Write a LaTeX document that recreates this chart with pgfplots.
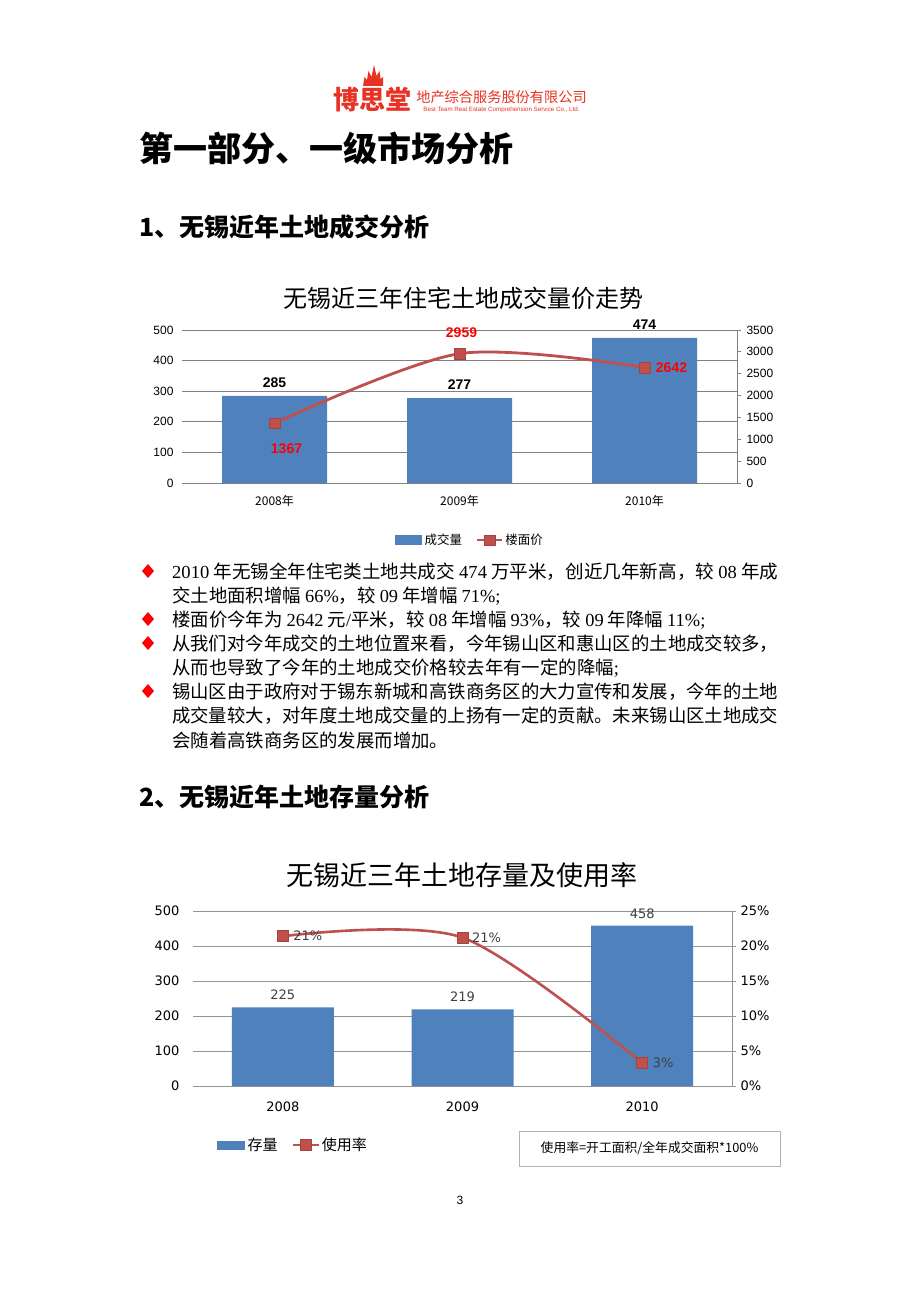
\documentclass[border=0pt]{standalone}
\usepackage{graphicx}
\usepackage{pgfplots}
\usepackage{pgfplotstable}
\pgfplotsset{compat=1.18}
\usepackage{fontspec}
\setmainfont{Liberation Serif}
\newfontfamily\cjk{Noto Sans CJK SC}
\newfontfamily\lsans{Liberation Sans}
\newfontfamily\dsans{DejaVu Sans}
\definecolor{barblue}{RGB}{79,129,189}
\definecolor{linered}{RGB}{192,80,77}
\definecolor{logored}{RGB}{232,50,36}
\definecolor{gridgray}{RGB}{128,128,128}
\definecolor{labgray}{RGB}{64,64,64}
\newcommand\fs[1]{\fontsize{#1bp}{#1bp}\selectfont}
\newcommand\R[1]{{\rmfamily #1}}
\newlength\jw
\newcommand\jline[2]{\settowidth\jw{#2}\pgfmathsetmacro\sx{#1*1.00375/\jw}\scalebox{\sx}[1]{#2}}
\pgfplotsset{
  linelegA/.style={legend image code/.code={\draw[mark repeat=2,mark phase=2,##1,line width=2.4bp] plot coordinates {(0bp,0bp) (12.5bp,0bp) (25bp,0bp)};}},
  linelegB/.style={legend image code/.code={\draw[mark repeat=2,mark phase=2,##1,line width=2.2bp] plot coordinates {(0bp,0bp) (13bp,0bp) (26bp,0bp)};}},
}

\pgfplotstableread{
x y dx dy
0 1367 12 -25
1 2959 2 21
2 2642 27 0
}\priceTable
\pgfplotstableread{
x y dx
0 21.4 25
1 21.2 24
2 3.3 21
}\rateTable

\begin{document}
\begin{tikzpicture}[x=1bp,y=1bp]
\fill[white] (0,0) rectangle (920,-1302);

% ---------- header logo ----------
\fill[logored] (363,-86) -- (364.5,-77) -- (367,-80) -- (368.5,-71) -- (371.5,-77) -- (374,-65) -- (376.5,-76) -- (379.5,-71) -- (380.5,-79) -- (383,-77) -- (383,-86) -- cycle;
\node[inner sep=0, text=logored, font=\cjk\bfseries\fs{26}] at (372.5,-100) {博思堂};
\node[inner sep=0, text=logored, font=\cjk\fs{14.2}] at (501.5,-97) {地产综合服务股份有限公司};
\node[inner sep=0, text=logored, font=\lsans\fs{6.2}] at (501.5,-110) {Best Team Real Estate Comprehension Service Co., Ltd.};

% ---------- headings ----------
\node[anchor=west, inner sep=0, font=\cjk\bfseries\fs{34}] at (139,-148) {第一部分、一级市场分析};
\node[anchor=west, inner sep=0, font=\cjk\bfseries\fs{25}] at (139,-227) {1、无锡近年土地成交分析};
\node[anchor=west, inner sep=0, font=\cjk\bfseries\fs{25}] at (139,-797) {2、无锡近年土地存量分析};

% ---------- chart 1 ----------
\node[inner sep=0, font=\cjk\fs{24}] at (463,-298) {无锡近三年住宅土地成交量价走势};
\begin{axis}[
  at={(182bp,-483bp)}, anchor=south west, scale only axis,
  width=555bp, height=153bp,
  xmin=-0.5, xmax=2.5, ymin=0, ymax=500,
  axis x line*=bottom, axis y line*=left,
  axis line style={draw=none},
  ytick={0,100,...,500}, xtick={0,1,2},
  xticklabels={2008年,2009年,2010年},
  ymajorgrids, grid style={gridgray, line width=0.8bp},
  major tick length=0pt,
  /pgf/number format/assume math mode=true,
  /pgf/number format/1000 sep={},
  yticklabel style={font=\lsans\fs{12}, text=black, xshift=-5bp},
  xticklabel style={font=\cjk\fs{12}, text=black, yshift=-9bp},
  clip=false,
]
\addplot[ybar, bar width=105bp, bar shift=0pt, fill=barblue, draw=none,
  nodes near coords,
  nodes near coords style={font=\lsans\bfseries\fs{14}, text=black, yshift=5bp}]
  coordinates {(0,285) (1,277) (2,474)};
\end{axis}
\begin{axis}[
  at={(182bp,-483bp)}, anchor=south west, scale only axis,
  width=555bp, height=153bp,
  xmin=-0.5, xmax=2.5, ymin=0, ymax=3500,
  axis y line*=right, axis x line=none,
  ytick={0,500,...,3500},
  scaled y ticks=false,
  y axis line style={gridgray, line width=0.8bp},
  ytick style={gridgray, line width=0.8bp},
  major tick length=4bp, tick align=outside,
  /pgf/number format/assume math mode=true,
  /pgf/number format/1000 sep={},
  yticklabel style={font=\lsans\fs{12}, text=black, anchor=west, xshift=2bp},
  clip=false,
  legend style={at={(0.519,-0.373)}, anchor=center, draw=none, fill=none,
    legend columns=2, font=\cjk\fs{12.5},
    /tikz/every even column/.append style={column sep=12bp}},
]
\addlegendimage{legend image code/.code={\fill[barblue] (0bp,-4.5bp) rectangle (26bp,4.5bp);}}
\addlegendentry{\hspace{1bp}成交量}
\addplot[linered, line width=2.8bp, smooth,
  mark=square*, mark size=5.3bp,
  mark options={fill=linered, draw=linered!85!black, line width=0.5bp},
  linelegA,
  nodes near coords,
  visualization depends on={\thisrow{dx}\as\dx},
  visualization depends on={\thisrow{dy}\as\dy},
  every node near coord/.append style={anchor=center, xshift=\dx bp, yshift=\dy bp, font=\lsans\bfseries\fs{14}, text=red}]
  table[x=x, y=y] {\priceTable};
\addlegendentry{楼面价}
\end{axis}

% ---------- bullet text ----------
\foreach \yy in {571,619,643,691} {
  \fill[red] (148,-\yy+7) -- (154,-\yy) -- (148,-\yy-7) -- (142,-\yy) -- cycle;
}
\begin{scope}[every node/.style={anchor=west, inner sep=0, font=\cjk\fs{18.4}}]
\node at (172,-572) {\jline{606}{\R{2010} 年无锡全年住宅类土地共成交 \R{474} 万平米，创近几年新高，较 \R{08} 年成}};
\node at (172,-596) {交土地面积增幅 \R{66\%}，较 \R{09} 年增幅 \R{71\%;}};
\node at (172,-620) {楼面价今年为 \R{2642} 元\R{/}平米，较 \R{08} 年增幅 \R{93\%}，较 \R{09} 年降幅 \R{11\%;}};
\node at (172,-644) {\jline{606}{从我们对今年成交的土地位置来看，今年锡山区和惠山区的土地成交较多，}};
\node at (172,-668) {从而也导致了今年的土地成交价格较去年有一定的降幅\R{;}};
\node at (172,-692) {\jline{606}{锡山区由于政府对于锡东新城和高铁商务区的大力宣传和发展，今年的土地}};
\node at (172,-716) {\jline{606}{成交量较大，对年度土地成交量的上扬有一定的贡献。未来锡山区土地成交}};
\node at (172,-740) {会随着高铁商务区的发展而增加。};
\end{scope}

% ---------- chart 2 ----------
\node[inner sep=0, font=\cjk\fs{27}] at (462,-875) {无锡近三年土地存量及使用率};
\begin{axis}[
  at={(193bp,-1086bp)}, anchor=south west, scale only axis,
  width=539bp, height=175bp,
  xmin=-0.5, xmax=2.5, ymin=0, ymax=500,
  axis x line*=bottom, axis y line*=left,
  axis line style={draw=none},
  ytick={0,100,...,500}, xtick={0,1,2},
  xticklabels={2008,2009,2010},
  ymajorgrids, grid style={gridgray!85, line width=0.8bp},
  major tick length=0pt,
  /pgf/number format/assume math mode=true,
  yticklabel style={font=\dsans\fs{13}, text=black, xshift=-10bp},
  xticklabel style={font=\dsans\fs{13}, text=black, yshift=-12bp},
  clip=false,
]
\addplot[ybar, bar width=102bp, bar shift=0pt, fill=barblue, draw=none,
  nodes near coords,
  nodes near coords style={font=\dsans\fs{13}, text=labgray, yshift=4bp}]
  coordinates {(0,225) (1,219) (2,458)};
\end{axis}
\begin{axis}[
  at={(193bp,-1086bp)}, anchor=south west, scale only axis,
  width=539bp, height=175bp,
  xmin=-0.5, xmax=2.5, ymin=0, ymax=25,
  axis y line*=right, axis x line=none,
  ytick={0,5,...,25},
  yticklabels={0\%,5\%,10\%,15\%,20\%,25\%},
  y axis line style={gridgray!85, line width=0.8bp},
  ytick style={gridgray!85, line width=0.8bp},
  major tick length=4bp, tick align=outside,
  /pgf/number format/assume math mode=true,
  yticklabel style={font=\dsans\fs{13}, text=black, anchor=west, xshift=1bp},
  clip=false,
  legend style={at={(0.1855,-0.337)}, anchor=center, draw=none, fill=none,
    legend columns=2, font=\cjk\fs{15},
    /tikz/every even column/.append style={column sep=12bp}},
]
\addlegendimage{legend image code/.code={\fill[barblue] (0bp,-4bp) rectangle (27bp,4bp);}}
\addlegendentry{\hspace{1bp}存量}
\addplot[linered, line width=2.6bp, smooth,
  mark=square*, mark size=5.5bp,
  mark options={fill=linered, draw=linered!85!black, line width=0.5bp},
  linelegB,
  nodes near coords={\pgfmathprintnumber[fixed,precision=0,assume math mode=true]{\pgfplotspointmeta}\%},
  visualization depends on={\thisrow{dx}\as\dx},
  every node near coord/.append style={anchor=center, xshift=\dx bp, yshift=0bp, font=\dsans\fs{13}, text=labgray}]
  table[x=x, y=y] {\rateTable};
\addlegendentry{使用率}
\end{axis}
\draw[gray!60, line width=0.8bp] (519,-1131) rectangle (780,-1166);
\node[inner sep=0, font=\cjk\fs{12.8}] at (649.5,-1148.5) {使用率=开工面积/全年成交面积*100\%};

% page number
\node[inner sep=0, font=\lsans\fs{12}] at (460,-1200) {3};
\end{tikzpicture}
\end{document}
